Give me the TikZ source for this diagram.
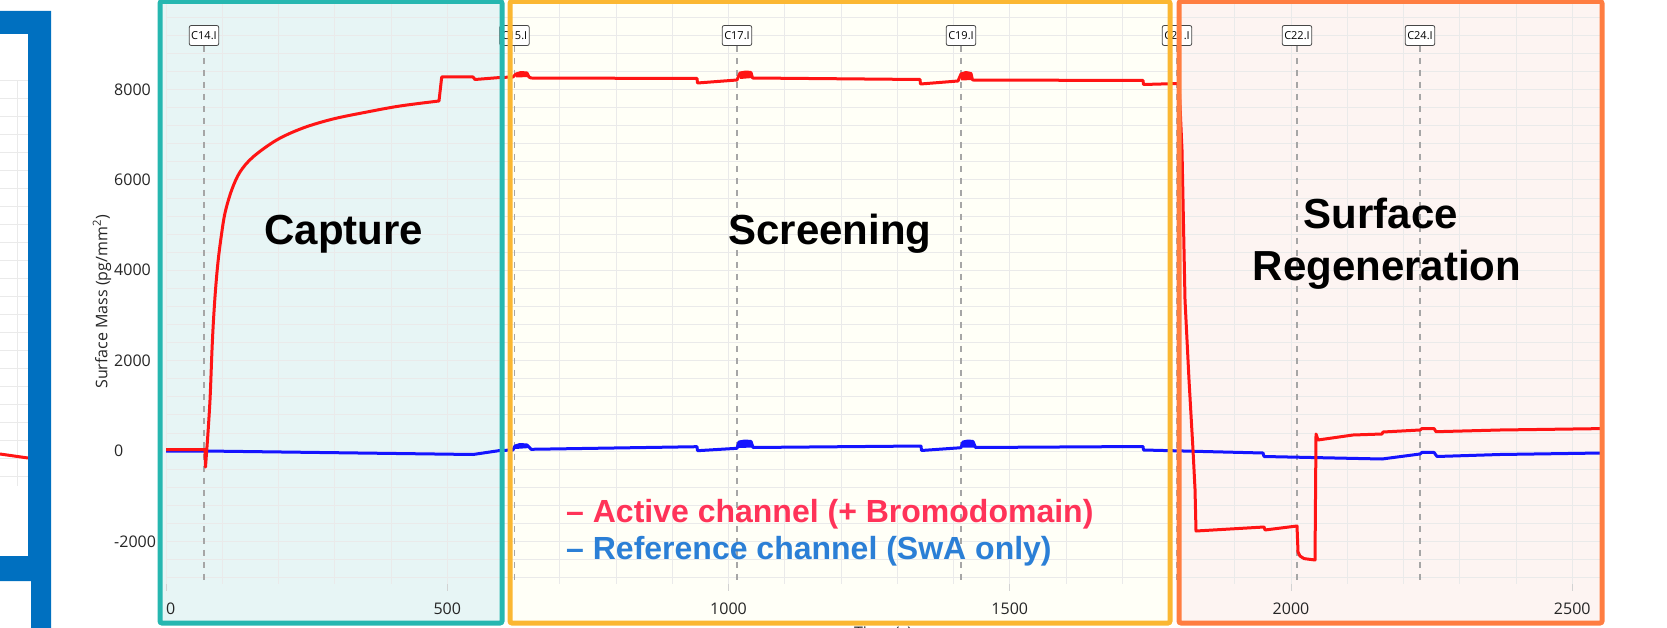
\documentclass[tikz,border=0pt]{standalone}
\usepackage{fontspec}
\setmainfont{Liberation Sans}
\newfontfamily\axisfont{Open Sans}
\definecolor{capteal}{HTML}{26B7B0}
\definecolor{capfill}{HTML}{E7F5F5}
\definecolor{scryellow}{HTML}{FBB732}
\definecolor{scrfill}{HTML}{FFFFF7}
\definecolor{regorange}{HTML}{FF7D41}
\definecolor{regfill}{HTML}{FDF4F2}
\definecolor{brackblue}{HTML}{0070C0}
\definecolor{actred}{HTML}{FF1414}
\definecolor{refblue}{HTML}{1414FF}
\definecolor{legred}{HTML}{FF3358}
\definecolor{legblue}{HTML}{2B7FD6}
\definecolor{gridgray}{HTML}{EAEAEA}

\tikzset{
  phase/.style={line width=5pt, rounded corners=2pt},
  gridline/.style={gridgray, line width=0.7pt},
  markline/.style={gray!70, line width=1.5pt, dash pattern=on 6pt off 6pt},
  marklabel/.style={draw=gray!55!black, fill=white, rounded corners=2pt, line width=0.8pt,
    inner sep=2pt, minimum height=20pt, font=\axisfont\fontsize{11}{11}\selectfont},
  ticklabel/.style={font=\axisfont\fontsize{16}{16}\selectfont, text=black!85, inner sep=0pt},
  phaselabel/.style={font=\bfseries\fontsize{42}{51}\selectfont, anchor=base, inner sep=0pt},
  legendtext/.style={font=\bfseries\fontsize{32}{32}\selectfont, anchor=base west, inner sep=0pt},
  trace/.style={line width=3pt, line join=round}
}

\begin{document}
\begin{tikzpicture}[x=1pt,y=-1pt]
  \useasboundingbox (0,0) rectangle (1667,628);
  % phase backgrounds
  \fill[capfill] (160,1.5) rectangle (502,623);
  \fill[scrfill] (510,1.5) rectangle (1170,623);
  \fill[regfill] (1179,1.5) rectangle (1602,623);
  % grid
  \foreach \i in {0,...,25}
    \draw[gridline] ({166+56.25*\i},0) -- ({166+56.25*\i},584);
  \foreach \j in {-7,...,24}
    \draw[gridline] (166,{451-18.08*(\j)}) -- (1602,{451-18.08*(\j)});
  \foreach \y in {80,98,...,476}
    \draw[gridline] (0,\y) -- (28,\y);
  \draw[gridline] (17,80) -- (17,486);
  \foreach \t in {0,500,...,2500}
    \draw[gray!35, line width=0.8pt] ({166+0.5625*\t},584) -- ++(0,7);

  % injection markers
  \coordinate (axbot) at (0,584);
  \foreach \n/\x in {14/204,15/514.5,17/737,19/961,21/1177,22/1297,24/1420}{
    \node[marklabel] (c\n) at (\x,35.5) {C\n.I};
    \draw[markline] (c\n.south) -- (c\n.south |- axbot);
  }

  % reference channel
  \draw[trace, refblue] (166,451) -- (205,451) -- (473,454.5) -- (500,450.5) -- (513,450)
    -- (515,446) -- (520,444.5) -- (527,445) -- (530,448) -- (531,449.3) -- (697,446.7)
    -- (697.5,450.7) -- (737,448.3) -- (739,442) -- (745,441) -- (751,441.5) -- (753,447.5)
    -- (921,446) -- (921.5,450.5) -- (961,447.7) -- (963,442) -- (968,441) -- (973,441.5)
    -- (975.5,447.5) -- (1143,446.5) -- (1143.5,450) -- (1263,453) -- (1264,456.5)
    -- (1382,459) -- (1420,454) -- (1422,452.4) -- (1434,452.4) -- (1437,456.5)
    -- (1500,454.5) -- (1602,453);
  \fill[refblue] (515,446) -- (520,444.5) -- (527,445) -- (530,448) -- (515,449) -- cycle;
  \fill[refblue] (739,442) -- (745,441) -- (751,441.5) -- (753,447.5) -- (739,448) -- cycle;
  \fill[refblue] (963,442) -- (968,441) -- (973,441.5) -- (975.5,447.5) -- (963,447.5) -- cycle;

  % active channel
  \draw[trace, actred] (0,454) -- (28,458);
  \draw[trace, actred] (166,449.5) -- (205,449.5) -- (205.5,467)
    -- plot[smooth, tension=0.55] coordinates {(207.5,440) (210,400) (212,350) (213.5,320)
      (215.5,290) (218,262) (221,238) (225,213) (231.7,190) (240,172) (253,157) (276.7,140)
      (303,128) (333,119) (367,112) (400,106) (439,101)}
    -- (441.7,77) -- (473,77) -- (475,79.5) -- (500,77.5) -- (513,77) -- (516,74)
    -- (521,72.5) -- (527,73) -- (529,77) -- (531,78) -- (697,78.5) -- (697.5,83) -- (737,80)
    -- (740,73) -- (746,72) -- (751,72.5) -- (752.5,78) -- (920,79.5) -- (920.5,84)
    -- (958,81) -- (961,74) -- (966,72.5) -- (971,73.5) -- (972.5,80) -- (1143,80.5)
    -- (1143.5,84.5) -- (1179,83.5) -- (1182,150) -- (1185,300) -- (1189,380) -- (1193,450)
    -- (1195,489) -- (1196,531) -- (1264,527) -- (1265,530) -- (1297,526) -- (1298,552)
    -- (1300,556) -- (1304,558.6) -- (1315,560) -- (1316,434) -- (1318,440) -- (1353,435)
    -- (1382,434) -- (1383,432) -- (1420,430) -- (1422,428.5) -- (1434,428.5)
    -- (1436,431.7) -- (1500,430) -- (1602,428.6);
  \fill[actred] (516,74) -- (521,72.5) -- (527,73) -- (529,77) -- (516,77.5) -- cycle;
  \fill[actred] (740,73) -- (746,72) -- (751,72.5) -- (752.5,78) -- (740,79) -- cycle;
  \fill[actred] (961,74) -- (966,72.5) -- (971,73.5) -- (972.5,80) -- (961,80.5) -- cycle;

  % phase frames
  \draw[phase, capteal] (160,1.5) rectangle (502,623);
  \draw[phase, scryellow] (510,1.5) rectangle (1170,623);
  \draw[phase, regorange] (1179,1.5) rectangle (1602,623);

  % bracket at the left edge
  \fill[brackblue] (0,11) -- (51,11) -- (51,628) -- (31,628) -- (31,581) -- (0,581)
    -- (0,556) -- (28,556) -- (28,34) -- (0,34) -- cycle;

  % axes text
  \foreach \v in {-2000,0,2000,4000,6000,8000}
    \node[ticklabel, anchor=west] (yt\v) at (114,{451-0.0452*(\v)}) {\v};
  \node[ticklabel, anchor=base west] (xt0) at (166,614) {0};
  \foreach \t in {500,1000,1500,2000,2500}
    \node[ticklabel, anchor=base] (xt\t) at ({166+0.5625*\t},614) {\t};
  \node[ticklabel, rotate=90] (ylab) at (102,302) {Surface Mass (pg/mm\textsuperscript{2})};
  \node[ticklabel, anchor=base] (xlab) at (883,638) {Time (s)};

  % phase names and legend
  \node[phaselabel] (capture) at (344,245) {Capture};
  \node[phaselabel] (screening) at (830,245) {Screening};
  \node[phaselabel] (surface) at (1381,229) {Surface};
  \node[phaselabel] (regen) at (1387,280) {Regeneration};
  \node[legendtext, text=legred] (activeleg) at (566,522) {\textendash\ Active channel (+ Bromodomain)};
  \node[legendtext, text=legblue] (refleg) at (566,559) {\textendash\ Reference channel (SwA only)};
\end{tikzpicture}
\end{document}
